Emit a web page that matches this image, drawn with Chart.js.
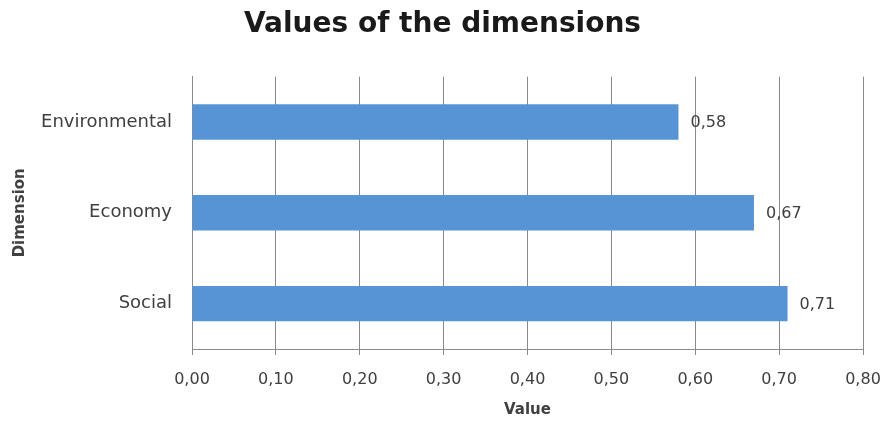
<!DOCTYPE html>
<html>
<head>
<meta charset="utf-8">
<script src="https://cdn.jsdelivr.net/npm/chart.js@4/dist/chart.umd.min.js"></script>
<style>
  html, body { margin: 0; padding: 0; background: #fff; }
  #wrap { width: 886px; height: 422px; }
</style>
</head>
<body>
<div id="wrap"><canvas id="dimchart" width="886" height="422"></canvas></div>
<script>
const dimensions = ['Environmental', 'Economy', 'Social'];
const dimValues = [0.58, 0.67, 0.71];
const xTicks = [0, 0.1, 0.2, 0.3, 0.4, 0.5, 0.6, 0.7, 0.8];

const fmt = v => v.toFixed(2).replace('.', ',');
const FONT = '"DejaVu Sans"';

// value labels at the end of each bar
const barLabels = {
  id: 'barLabels',
  afterDatasetsDraw(chart) {
    const ctx = chart.ctx;
    const meta = chart.getDatasetMeta(0);
    ctx.save();
    ctx.font = '16px ' + FONT;
    ctx.fillStyle = '#404040';
    ctx.textAlign = 'left';
    ctx.textBaseline = 'middle';
    meta.data.forEach((bar, i) => {
      ctx.fillText(fmt(dimValues[i]), bar.x + 12, bar.y + 1);
    });
    ctx.restore();
  }
};

const mychart = new Chart(document.getElementById('dimchart'), {
  type: 'bar',
  data: {
    labels: dimensions,
    datasets: [{
      data: dimValues,
      backgroundColor: '#5694D6',
      barPercentage: 0.78,
      categoryPercentage: 0.5
    }]
  },
  options: {
    indexAxis: 'y',
    responsive: false,
    animation: false,
    layout: { padding: { left: 11, right: 12, top: 0, bottom: 0 } },
    plugins: {
      legend: { display: false },
      tooltip: { enabled: false },
      title: {
        display: true,
        text: 'Values of the dimensions',
        color: '#1a1a1a',
        font: { family: FONT, size: 28, weight: 'bold' },
        padding: { top: 8, bottom: 35 }
      }
    },
    scales: {
      x: {
        min: 0,
        max: 0.8,
        afterBuildTicks: s => { s.ticks = xTicks.map(v => ({ value: v })); },
        afterFit: s => { s.height = 73; s.paddingLeft = 0; s.paddingRight = 23; },
        grid: { color: '#8a8a8a', lineWidth: 1, tickLength: 6 },
        border: { color: '#8a8a8a' },
        ticks: {
          padding: 15,
          color: '#404040',
          font: { family: FONT, size: 16 },
          callback: v => fmt(v)
        },
        title: {
          display: true,
          text: 'Value',
          color: '#404040',
          font: { family: FONT, size: 15, weight: 'bold' },
          padding: { top: 2, bottom: 3 }
        }
      },
      y: {
        afterFit: s => { s.width = 181; },
        grid: { display: false, drawTicks: false },
        border: { color: '#8a8a8a' },
        ticks: {
          padding: 20,
          color: '#404040',
          font: { family: FONT, size: 18 }
        },
        title: {
          display: true,
          text: 'Dimension',
          color: '#404040',
          font: { family: FONT, size: 15, weight: 'bold' },
          padding: { top: 0, bottom: 0 }
        }
      }
    }
  },
  plugins: [barLabels]
});
</script>
</body>
</html>
